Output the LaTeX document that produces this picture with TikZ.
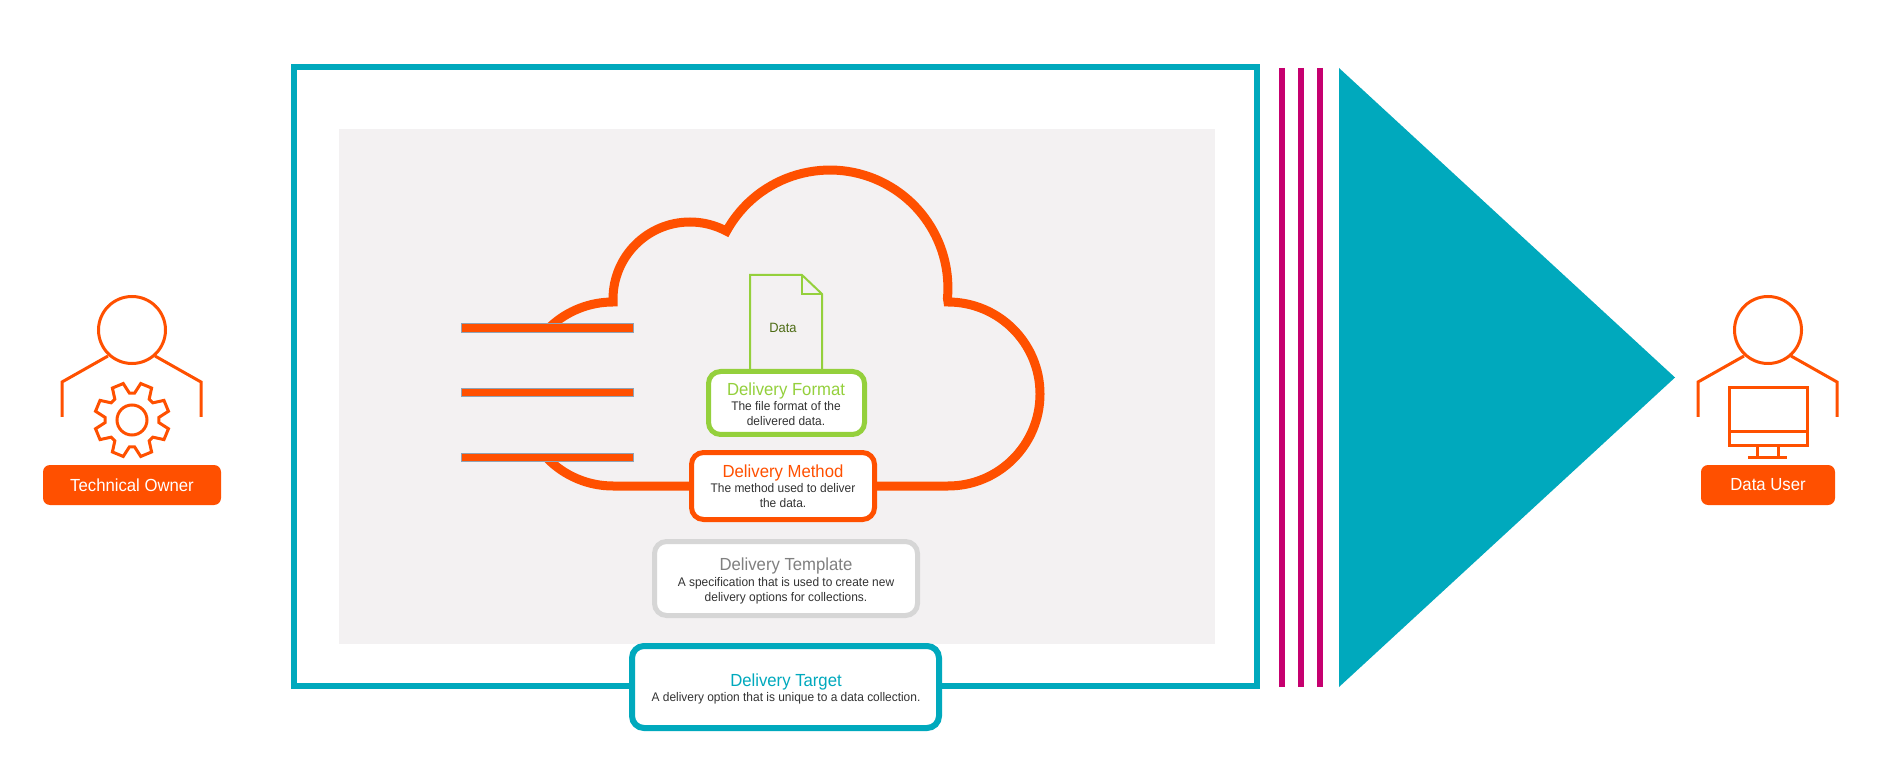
\documentclass[tikz,border=0pt]{standalone}
\usepackage{fontspec}
\setmainfont[FakeStretch=0.955]{Liberation Sans}
\usetikzlibrary{calc}
\definecolor{orng}{HTML}{FF5000}
\definecolor{teal2}{HTML}{00A9BD}
\definecolor{mag}{HTML}{C6006F}
\definecolor{bggrey}{HTML}{F3F1F2}
\definecolor{grn}{HTML}{94D03C}
\definecolor{dgrn}{HTML}{4C6B14}
\definecolor{tgrey}{HTML}{808080}
\definecolor{lgrey}{HTML}{D6D6D6}
\definecolor{bodyc}{HTML}{333333}
\definecolor{edgec}{HTML}{8FA3B5}
\tikzset{
  x=1pt,y=1pt,
  card/.style={draw,fill=white,rounded corners=12pt,inner sep=0pt,line width=5pt},
  ttl/.style={anchor=base,inner sep=0pt,font=\fontsize{17.5}{20}\selectfont},
  bodytxt/.style={anchor=base,inner sep=0pt,text=bodyc,font=\fontsize{12.5}{15}\selectfont},
  icon/.style={draw=orng,line width=3pt,miter limit=10},
  btn/.style={fill=orng,rounded corners=7pt,inner sep=0pt,text=white,font=\fontsize{17.5}{20}\selectfont},
  cloudline/.style={draw=orng,line width=9pt,miter limit=20},
  streak/.style={fill=orng,draw=edgec,line width=0.5pt},
  magbar/.style={draw=mag,line width=6pt}
}
\begin{document}
\begin{tikzpicture}
\useasboundingbox (0,0) rectangle (1884,780);
\fill[white] (0,0) rectangle (1884,780);
% panels
\fill[bggrey] (339,651) rectangle (1215,136);
\draw[teal2,line width=6pt] (294,713) rectangle (1257,94);
\coordinate (m1a) at (1282,712); \coordinate (m1b) at (1282,93);
\coordinate (m2a) at (1301,712); \coordinate (m2b) at (1301,93);
\coordinate (m3a) at (1320,712); \coordinate (m3b) at (1320,93);
\draw[magbar] (m1a) -- (m1b);
\draw[magbar] (m2a) -- (m2b);
\draw[magbar] (m3a) -- (m3b);
\fill[teal2] (1339,712) -- (1675,402.5) -- (1339,93) -- cycle;
% cloud
\coordinate (leftc) at (613,386);
\draw[cloudline] ($(leftc)+(133:92)$) arc[start angle=133,end angle=90,radius=92]
  -- ++(0,3)
  arc[start angle=180,end angle=61.7,radius=77]
  arc[start angle=151.2,end angle=-5,radius=118]
  -- (948,478)
  arc[start angle=90,end angle=-90,radius=92]
  -- (613,294)
  arc[start angle=270,end angle=224,radius=92];
\draw[streak] (461,456.5) rectangle (633,448);
\draw[streak] (461,392) rectangle (633,383.5);
\draw[streak] (461,327) rectangle (633,318.5);
% document
\draw[grn,line width=2pt,miter limit=10] (750,408) -- (750,505) -- (802,505) -- (822,486) -- (822,408);
\draw[grn,line width=2pt] (802,505) -- (802,486) -- (822,486);
\node[inner sep=0pt,anchor=base,text=dgrn,font=\fontsize{13.5}{16}\selectfont] (datalbl) at (783,447) {Data};
% cards
\node[card,draw=grn,minimum width=156pt,minimum height=63pt] (fmt) at (786.5,377) {};
\node[ttl,text=grn] (fmtt) at (786,384) {Delivery Format};
\node[bodytxt] (fmta) at (786,369) {The file format of the};
\node[bodytxt] (fmtb) at (786,354.5) {delivered data.};
\node[card,draw=orng,minimum width=183pt,minimum height=67pt] (mth) at (783,294) {};
\node[ttl,text=orng] (mtht) at (783,303) {Delivery Method};
\node[bodytxt] (mtha) at (783,288) {The method used to deliver};
\node[bodytxt] (mthb) at (783,273) {the data.};
\node[card,draw=lgrey,minimum width=263pt,minimum height=74pt] (tpl) at (786,201.5) {};
\node[ttl,text=tgrey] (tplt) at (786,210) {Delivery Template};
\node[bodytxt] (tpla) at (786,194) {A specification that is used to create new};
\node[bodytxt] (tplb) at (786,179) {delivery options for collections.};
\node[card,draw=teal2,line width=6pt,minimum width=307pt,minimum height=82pt] (tgt) at (785.5,93) {};
\node[ttl,text=teal2] (tgtt) at (786,94) {Delivery Target};
\node[bodytxt] (tgta) at (786,79) {A delivery option that is unique to a data collection.};
% left person
\coordinate (lhead) at (132,450);
\draw[icon] (lhead) circle[radius=33.5];
\draw[icon] (108,424) -- (62,398) -- (62,363);
\draw[icon] (155,424) -- (201,398) -- (201,363);
\begin{scope}[shift={(132,360)}]
\draw[icon] (5.5:27) foreach \a in {22.5,67.5,...,337.5} { -- (\a-17:27) -- (\a-9:37.5) -- (\a+9:37.5) -- (\a+17:27) } -- cycle;
\draw[icon] (0,0) circle[radius=15];
\end{scope}
\node[btn,minimum width=178pt,minimum height=40pt] (towner) at (132,295) {Technical Owner};
% right person
\coordinate (rhead) at (1768,450);
\draw[icon] (rhead) circle[radius=33.5];
\draw[icon] (1744,424) -- (1698,398) -- (1698,363);
\draw[icon] (1791,424) -- (1837,398) -- (1837,363);
\draw[icon] (1729,392) rectangle (1807,335);
\draw[icon] (1729,348) -- (1807,348);
\draw[icon] (1757,335) -- (1757,323);
\draw[icon] (1778,335) -- (1778,323);
\draw[icon] (1748,323) -- (1787,323);
\node[btn,minimum width=134pt,minimum height=40pt] (duser) at (1768,295) {Data User};
\end{tikzpicture}
\end{document}
